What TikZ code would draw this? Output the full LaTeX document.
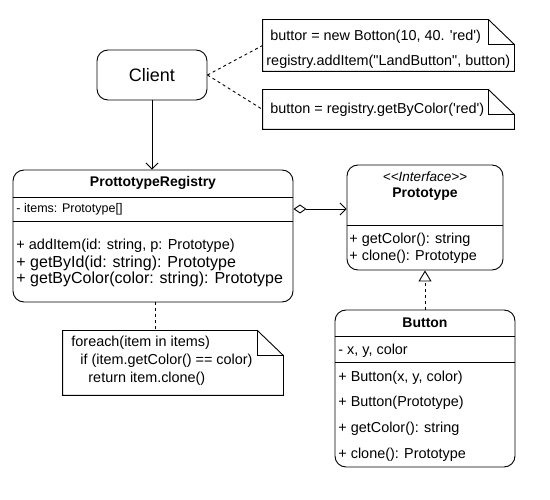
\documentclass[tikz,border=0pt]{standalone}
\usepackage{fontspec}
\setmainfont{Liberation Sans}
\usetikzlibrary{arrows.meta}
\newcommand\fs[1]{\fontsize{#1}{#1}\selectfont}
\newcommand\sq{\textquotesingle}
\newcommand\dq{\textquotedbl}
\newcommand\drawnote[1]{%
  \draw (#1.north west) -- ([xshift=-26pt]#1.north east) -- ([yshift=-25pt]#1.north east)
        -- (#1.south east) -- (#1.south west) -- cycle;
  \draw ([xshift=-26pt]#1.north east) -- ([xshift=-26pt,yshift=-25pt]#1.north east)
        -- ([yshift=-25pt]#1.north east);}
\begin{document}
\begin{tikzpicture}[x=1pt,y=-1pt,line width=0.9pt,
  box/.style={draw,rounded corners=11pt,inner sep=0pt},
  notebox/.style={draw=none,inner sep=0pt},
  txt/.style={inner sep=0pt,anchor=west,font=\fs{14.4}},
  title/.style={inner sep=0pt,font=\fs{14}\bfseries},
  dsh/.style={dash pattern=on 3pt off 3pt},
  ]
\useasboundingbox (0,0) rectangle (550,500);

% Client
\node[box,minimum width=110pt,minimum height=50pt,font=\fs{18}] (client) at (152,75) {Client};

% notes top
\node[notebox,minimum width=251pt,minimum height=51pt] (n1) at (388.5,45.5) {};
\drawnote{n1}
\node[txt] (n1a) at (270,37) {buttor = new Botton(10, 40. \sq red\sq)};
\node[txt] (n1b) at (266,62) {registry.addItem(\dq LandButton\dq, button)};

\node[notebox,minimum width=251pt,minimum height=39pt] (n2) at (388.5,109.5) {};
\drawnote{n2}
\node[txt] (n2a) at (270,110) {button = registry.getByColor(\sq red\sq)};

\draw[dsh] (client.east) -- (n1.west);
\draw[dsh] (client.east) -- (n2.west);

% Registry
\node[box,minimum width=280pt,minimum height=132pt] (reg) at (153,236) {};
\draw (reg.west |- 0,197) -- (reg.east |- 0,197);
\draw (reg.west |- 0,221) -- (reg.east |- 0,221);
\node[title] (regt) at (153,183) {ProttotypeRegistry};
\node[txt,font=\fs{12.5}] (regi) at (16,209) {- items: Prototype[]};
\node[txt,font=\fs{14.5}] (regm1) at (16,246) {+ addItem(id: string, p: Prototype)};
\node[txt,font=\fs{16}] (regm2) at (16,263) {+ getById(id: string): Prototype};
\node[txt,font=\fs{16}] (regm3) at (16,279) {+ getByColor(color: string): Prototype};

\draw[-{Straight Barb[length=6pt,width=12pt]}] (client.south) -- (client.south |- reg.north);

% Prototype
\node[box,minimum width=156pt,minimum height=105pt] (proto) at (425,217.5) {};
\draw (proto.west |- 0,225) -- (proto.east |- 0,225);
\node[inner sep=0pt,font=\fs{13.5}\itshape] (protos) at (425,177) {<{}<Interface>{}>};
\node[title] (protot) at (425,194) {Prototype};
\node[txt] (protom1) at (349,240) {+ getColor(): string};
\node[txt] (protom2) at (349,257) {+ clone(): Prototype};

\coordinate (aggy) at (0,209);
\draw[{Diamond[open,length=13pt,width=9pt]}-{Straight Barb[length=6pt,width=12pt]}]
  (reg.east |- aggy) -- (proto.west |- aggy);

% Button
\node[box,minimum width=180pt,minimum height=157pt] (btn) at (425,388.5) {};
\draw (btn.west |- 0,336) -- (btn.east |- 0,336);
\draw (btn.west |- 0,362) -- (btn.east |- 0,362);
\node[title] (btnt) at (425,323) {Button};
\node[txt] (btna) at (338,351) {- x, y, color};
\node[txt] (btnm1) at (338,378) {+ Button(x, y, color)};
\node[txt] (btnm2) at (338,403) {+ Button(Prototype)};
\node[txt] (btnm3) at (338,429) {+ getColor(): string};
\node[txt] (btnm4) at (338,455) {+ clone(): Prototype};

\draw[dsh,-{Triangle[open,length=11pt,width=13pt]}] (btn.north) -- (proto.south);

% note 3
\node[notebox,minimum width=220pt,minimum height=64pt] (n3) at (173,363) {};
\drawnote{n3}
\node[txt] (n3a) at (71,343) {foreach(item in items)};
\node[txt] (n3b) at (80,361) {if (item.getColor() == color)};
\node[txt] (n3c) at (88,379) {return item.clone()};

\draw[dsh] ([xshift=2pt]reg.south) -- ([xshift=2pt]reg.south |- n3.north);
\end{tikzpicture}
\end{document}
